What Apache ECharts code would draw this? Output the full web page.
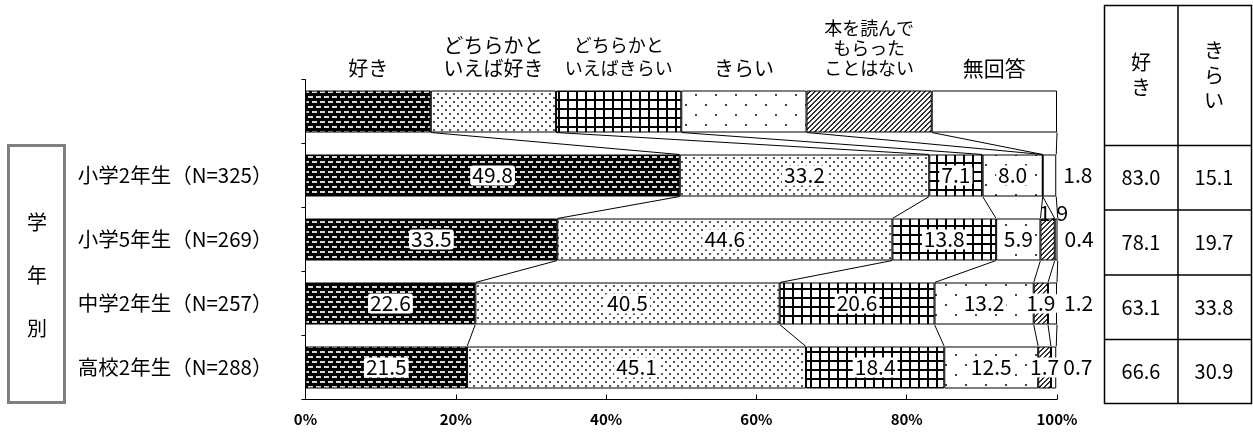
<!DOCTYPE html>
<html><head><meta charset="utf-8">
<script src="https://cdn.jsdelivr.net/npm/echarts@6/dist/echarts.min.js"></script>
<style>html,body{margin:0;padding:0;background:#fff}#c{width:1253px;height:435px}</style>
</head><body><div id="c"></div>
<script>
// ---- data ----
const grades = ['小学2年生（N=325）','小学5年生（N=269）','中学2年生（N=257）','高校2年生（N=288）'];
const seriesNames = ['好き','どちらかといえば好き','どちらかといえばきらい','きらい','本を読んでもらったことはない','無回答'];
const legendLabels = ['好き','どちらかと\nいえば好き','どちらかと\nいえばきらい','きらい','本を読んで\nもらった\nことはない','無回答'];
const legendSwatch = [16.67,16.67,16.66,16.67,16.66,16.67];
const suki = [49.8,33.5,22.6,21.5];
const dochiSuki = [33.2,44.6,40.5,45.1];
const dochiKirai = [7.1,13.8,20.6,18.4];
const kirai = [8.0,5.9,13.2,12.5];
const noRead = [0,1.9,1.9,1.7];
const noAnswer = [1.8,0.4,1.2,0.7];
const sukiTotal = ['83.0','78.1','63.1','66.6'];
const kiraiTotal = ['15.1','19.7','33.8','30.9'];
const tableHead = ['好\nき','き\nら\nい'];
const groupLabel = ['学','年','別'];

const FONT = '"Noto Sans CJK JP", sans-serif';
const BAR = 42;

function pat(w,h,draw){const c=document.createElement('canvas');c.width=w;c.height=h;const g=c.getContext('2d');draw(g);return {image:c,repeat:'repeat'};}
const patterns = [
  pat(8,10,g=>{g.fillStyle='#000';g.fillRect(0,0,8,10);g.fillStyle='#d8d8d8';g.fillRect(0,1,5,2);g.fillRect(4,6,4,2);g.fillRect(0,6,1,2);}),
  pat(8,8,g=>{g.fillStyle='#fff';g.fillRect(0,0,8,8);g.fillStyle='#555';g.fillRect(1,1,2,2);g.fillRect(5,5,2,2);}),
  pat(9,9,g=>{g.fillStyle='#fff';g.fillRect(0,0,9,9);g.fillStyle='#000';g.fillRect(0,0,9,2);g.fillRect(0,0,2,9);}),
  pat(20,20,g=>{g.fillStyle='#fff';g.fillRect(0,0,20,20);g.fillStyle='#444';g.fillRect(5,4,2,2);g.fillRect(15,14,2,2);}),
  pat(5,5,g=>{g.fillStyle='#fff';g.fillRect(0,0,5,5);g.fillStyle='#333';for(let x=0;x<5;x++)for(let y=0;y<5;y++){if((x+y)%5<2)g.fillRect(x,y,1,1);}}),
  '#ffffff'
];

const allVals = [suki,dochiSuki,dochiKirai,kirai,noRead,noAnswer];
const legendFont = [20,20,18,20,18,21];
const legendLH = [22,23,23,22,20,22];

function rowVals(c){ return allVals.map((s,k)=> c===0 ? legendSwatch[k] : s[c-1]); }

const valueLabel = {show:true, position:'inside', color:'#000', fontSize:21, fontFamily:FONT,
  backgroundColor:'#fff', padding:[0,2,-1,2], borderRadius:3,
  formatter: p => Number(p.value).toFixed(1)};

const series = allVals.map((arr,k)=>{
  const data = [{value:legendSwatch[k], label:{show:true, position:'top', distance: 22-legendLH[k]/2,
     formatter: legendLabels[k], fontSize:legendFont[k], lineHeight:legendLH[k], backgroundColor:'transparent', padding:0, color:'#000'}}];
  arr.forEach((v,i)=>{
    const item = {value:v};
    if (v===0) item.label = {show:false};
    else if (k===5) item.label = {position:'right', distance:5, backgroundColor:'transparent'};
    else if (k===4 && i===1) item.label = {position:'top', distance:-4, offset:[6,0], backgroundColor:'transparent'};
    data.push(item);
  });
  return {type:'bar', name:seriesNames[k], stack:'all', barWidth:BAR, data,
    itemStyle:{color:patterns[k], borderColor:'#000', borderWidth:1},
    label:valueLabel, emphasis:{disabled:true}, animation:false};
});

series.push({type:'custom', name:'connectors', animation:false, silent:true, z:1,
  data:[0,1,2,3].map(i=>[0,i]),
  encode:{x:0,y:1},
  renderItem:(params, api)=>{
    const i = api.value(1);
    const a = rowVals(i), b = rowVals(i+1);
    let ca=0, cb=0; const children=[];
    for(let k=0;k<6;k++){
      ca+=a[k]; cb+=b[k];
      const p1 = api.coord([ca,i]), p2 = api.coord([cb,i+1]);
      children.push({type:'line', shape:{x1:p1[0],y1:p1[1]+BAR/2,x2:p2[0],y2:p2[1]-BAR/2}, style:{stroke:'#000',lineWidth:1}});
    }
    return {type:'group', children};
  }
});

// ---- graphics (group box + side table) ----
const graphic = [];
graphic.push({type:'rect', shape:{x:8.5,y:145.5,width:56,height:257}, style:{fill:'#fff',stroke:'#808080',lineWidth:3}});
const gy=[222,275,328];
groupLabel.forEach((t,i)=>graphic.push({type:'text', x:37, y:gy[i], style:{text:t, fontSize:20, fontFamily:FONT, fill:'#000', align:'center', verticalAlign:'middle', textAlign:'center', textVerticalAlign:'middle'}}));
const TX=[1104.5,1178,1251.5], TY=[5.5,145.5,210,275,339.5,403.5];
graphic.push({type:'rect', shape:{x:TX[0],y:TY[0],width:TX[2]-TX[0],height:TY[5]-TY[0]}, style:{fill:'none',stroke:'#000',lineWidth:1.5}});
graphic.push({type:'line', shape:{x1:TX[1],y1:TY[0],x2:TX[1],y2:TY[5]}, style:{stroke:'#000',lineWidth:1.5}});
for(let r=1;r<5;r++) graphic.push({type:'line', shape:{x1:TX[0],y1:TY[r],x2:TX[2],y2:TY[r]}, style:{stroke:'#000',lineWidth:1.5}});
const colC=[1141,1214];
graphic.push({type:'text', x:colC[0], y:75, style:{text:tableHead[0], fontSize:20, lineHeight:25, fontFamily:FONT, fill:'#000', align:'center', verticalAlign:'middle', textAlign:'center', textVerticalAlign:'middle'}});
graphic.push({type:'text', x:colC[1], y:75, style:{text:tableHead[1], fontSize:20, lineHeight:25, fontFamily:FONT, fill:'#000', align:'center', verticalAlign:'middle', textAlign:'center', textVerticalAlign:'middle'}});
for(let r=0;r<4;r++){
  const cy=(TY[r+1]+TY[r+2])/2;
  [sukiTotal[r],kiraiTotal[r]].forEach((t,c)=>graphic.push({type:'text', x:colC[c], y:cy, style:{text:t, fontSize:20, fontFamily:FONT, fill:'#000', align:'center', verticalAlign:'middle', textAlign:'center', textVerticalAlign:'middle'}}));
}

const chart = echarts.init(document.getElementById('c'), null, {renderer:'canvas'});
chart.setOption({
  animation:false,
  backgroundColor:'#fff',
  textStyle:{fontFamily:FONT},
  grid:{left:305.5, right:196, top:79.5, bottom:35.5, containLabel:false},
  xAxis:{type:'value', min:0, max:100, interval:20,
    axisLine:{show:true, lineStyle:{color:'#000',width:1}},
    axisTick:{show:true, inside:true, length:5, lineStyle:{color:'#000'}},
    splitLine:{show:false},
    axisLabel:{formatter:'{value}%', fontSize:15, fontWeight:'bold', color:'#000', margin:12, fontFamily:FONT}},
  yAxis:{type:'category', inverse:true, data:['',...grades],
    axisLine:{show:true, lineStyle:{color:'#000',width:1}},
    axisTick:{show:true, length:4, lineStyle:{color:'#000'}},
    axisLabel:{fontSize:20.5, color:'#000', margin:33, fontFamily:FONT}},
  series, graphic
});
</script></body></html>
